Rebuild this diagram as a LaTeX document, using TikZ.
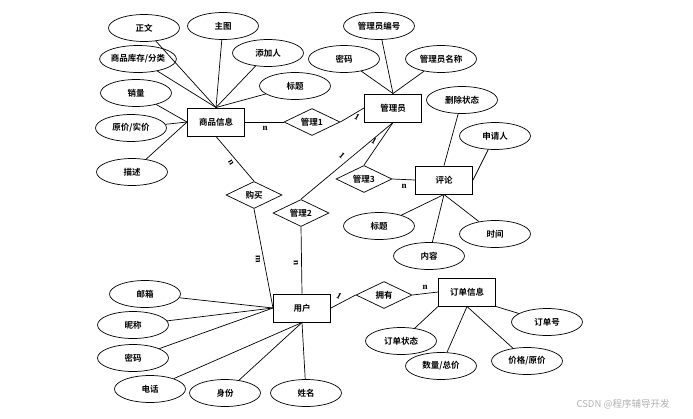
\documentclass[tikz,border=0pt]{standalone}
\usepackage{fontspec}
\setmainfont{Liberation Serif}
\newfontfamily\cjk{Noto Sans CJK SC}[BoldFont={Noto Sans CJK SC Bold}]
\usetikzlibrary{shapes.geometric}
\tikzset{
  attr/.style={ellipse,draw,line width=0.7pt,minimum width=71pt,minimum height=27pt,inner sep=0pt,font=\cjk\bfseries\fontsize{8.5}{10}\selectfont},
  entity/.style={rectangle,draw,line width=1pt,minimum width=57pt,minimum height=28pt,inner sep=0pt,font=\cjk\bfseries\fontsize{8.5}{10}\selectfont},
  rel/.style={diamond,draw,line width=0.7pt,aspect=2,minimum width=56pt,minimum height=27pt,inner sep=0pt,font=\cjk\bfseries\fontsize{8.5}{10}\selectfont},
  card/.style={font=\bfseries\fontsize{9}{10}\selectfont,inner sep=0pt},
  link/.style={line width=0.7pt}
}
\begin{document}
\begin{tikzpicture}[x=1pt,y=-1pt]
\useasboundingbox (0,0) rectangle (693,418);

\node[entity] (goods) at (216,122) {商品信息};
\node[entity] (admin) at (393,108) {管理员};
\node[entity] (comment) at (444,180) {评论};
\node[entity] (user) at (302,308) {用户};
\node[entity] (order) at (467,292) {订单信息};

\node[rel] (manage1) at (312,122) {管理1};
\node[rel] (buy) at (254,195) {购买};
\node[rel] (manage2) at (301,213) {管理2};
\node[rel] (manage3) at (364,179) {管理3};
\node[rel] (own) at (384,295) {拥有};

\node[attr] (text) at (144,28) {正文};
\node[attr] (image) at (223,26) {主图};
\node[attr] (adder) at (268,53) {添加人};
\node[attr] (stock) at (138,59) {商品库存/分类};
\node[attr] (gtitle) at (295,86) {标题};
\node[attr] (sales) at (136,93) {销量};
\node[attr] (price) at (131,128) {原价/实价};
\node[attr] (desc) at (132,172) {描述};

\node[attr] (adminno) at (379,26) {管理员编号};
\node[attr] (adminpwd) at (344,59) {密码};
\node[attr] (adminname) at (441,59) {管理员名称};

\node[attr] (delstate) at (462,100) {删除状态};
\node[attr] (applicant) at (495,136) {申请人};
\node[attr] (ctitle) at (379,226) {标题};
\node[attr] (content) at (429,256) {内容};
\node[attr] (ctime) at (495,234) {时间};

\node[attr] (email) at (145,294) {邮箱};
\node[attr] (nick) at (133,325) {昵称};
\node[attr] (userpwd) at (133,358) {密码};
\node[attr] (phone) at (150,389) {电话};
\node[attr] (role) at (225,393) {身份};
\node[attr] (uname) at (306,393) {姓名};

\node[attr] (ostate) at (401,341) {订单状态};
\node[attr] (amount) at (441,366) {数量/总价};
\node[attr] (oprice) at (527,361) {价格/原价};
\node[attr] (orderno) at (547,322) {订单号};

\draw[link] (text) -- (goods.north);
\draw[link] (image) -- (goods.north);
\draw[link] (adder) -- (goods.north);
\draw[link] (stock) -- (goods.north);
\draw[link] (gtitle) -- (goods.north);
\draw[link] (sales) -- (goods.west);
\draw[link] (price) -- (goods.west);
\draw[link] (desc) -- (goods.west);

\draw[link] (adminno) -- (admin.north);
\draw[link] (adminpwd) -- (admin.north);
\draw[link] (adminname) -- (admin.north);

\draw[link] (delstate) -- (comment.north);
\draw[link] (applicant) -- (comment.east);
\draw[link] (ctitle) -- (comment.south);
\draw[link] (content) -- (comment.south);
\draw[link] (ctime) -- (comment.south);

\draw[link] (email) -- (user.west);
\draw[link] (nick) -- (user.west);
\draw[link] (userpwd) -- (user.west);
\draw[link] (phone) -- (user.south);
\draw[link] (role) -- (user.south);
\draw[link] (uname) -- (user.south);

\draw[link] (ostate) -- (order.south west);
\draw[link] (amount) -- (order.south);
\draw[link] (oprice) -- (order.south);
\draw[link] (orderno) -- (order.south east);

\draw[link] (goods.east) -- (manage1.west);
\draw[link] (manage1.east) -- (admin.west);
\draw[link] (goods.south) -- (buy.north);
\draw[link] (buy.south) -- (user.west);
\draw[link] (admin.south) -- (manage2.north);
\draw[link] (manage2.south) -- (user.north);
\draw[link] (admin.south) -- (manage3.north);
\draw[link] (manage3.east) -- (comment.west);
\draw[link] (user.east) -- (own.west);
\draw[link] (own.east) -- (order.west);

\node[card] (c1) at (265,128) {n};
\node[card,rotate=-30] (c2) at (357,117) {1};
\node[card,rotate=-30] (c3) at (374,141) {1};
\node[card,rotate=-40] (c4) at (342,156) {1};
\node[card] (c5) at (404,186) {n};
\node[card,rotate=-60] (c6) at (231,163) {n};
\node[card,rotate=-90] (c7) at (258,259) {m};
\node[card,rotate=-90] (c8) at (296,263) {n};
\node[card,rotate=-30] (c9) at (339,296) {1};
\node[card] (c10) at (425,287) {n};

\node[text=black!30,font=\cjk\fontsize{9.5}{11}\selectfont] (mark) at (623,404) {CSDN @程序辅导开发};
\end{tikzpicture}
\end{document}
